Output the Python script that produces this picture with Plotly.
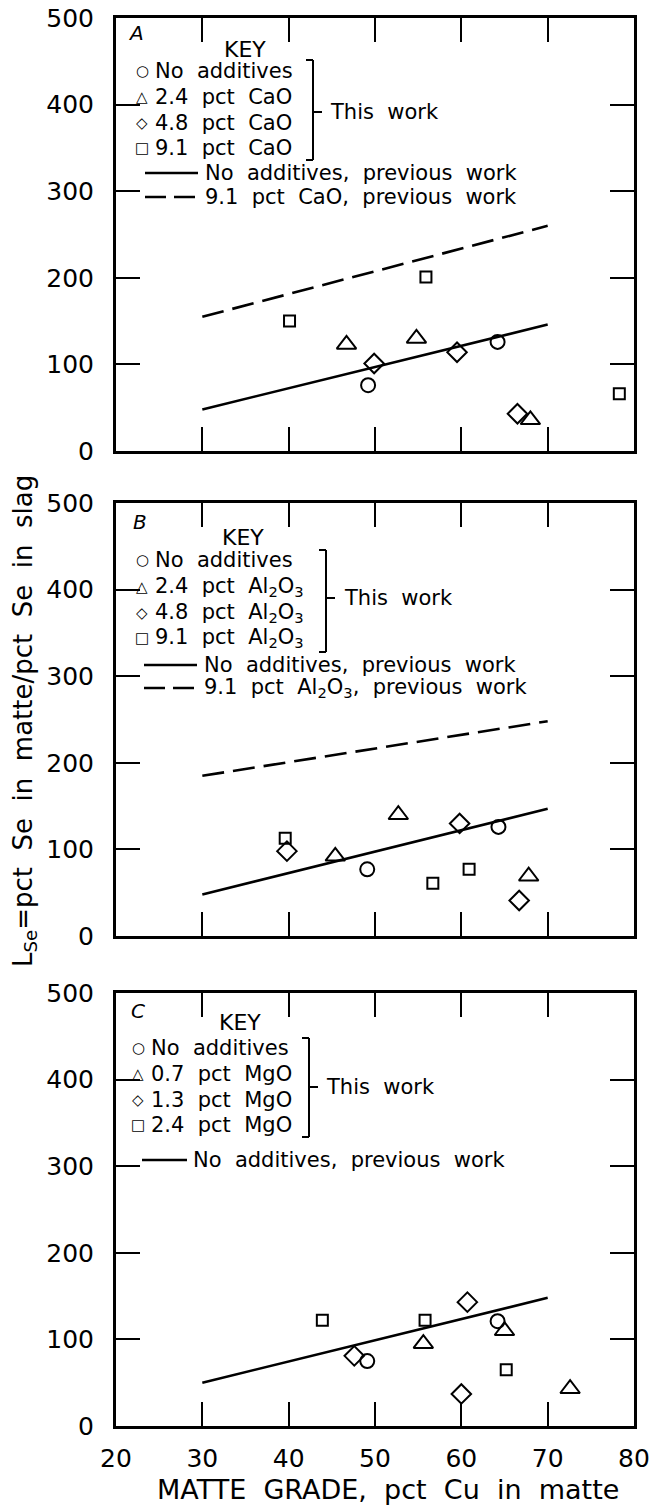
import plotly.graph_objects as go

# ---------------- data ----------------
prev_x = [30, 70]

# Panel A: CaO additions
A_none_x = [49.2, 64.2]
A_none_y = [76, 126]
A_tri_x = [46.7, 54.8, 68.0]
A_tri_y = [123, 130, 36]
A_dia_x = [49.9, 59.5, 66.5]
A_dia_y = [101, 114, 43]
A_sq_x = [40.1, 55.9, 78.3]
A_sq_y = [150, 201, 66]
A_prev_none = [48, 146]
A_prev_high = [155, 260]

# Panel B: Al2O3 additions
B_none_x = [49.1, 64.3]
B_none_y = [77, 126]
B_tri_x = [45.4, 52.7, 67.8]
B_tri_y = [92, 140, 69]
B_dia_x = [39.8, 59.8, 66.7]
B_dia_y = [98, 130, 41]
B_sq_x = [39.6, 56.7, 60.9]
B_sq_y = [113, 61, 77]
B_prev_none = [48, 147]
B_prev_high = [185, 248]

# Panel C: MgO additions
C_none_x = [49.1, 64.2]
C_none_y = [75, 121]
C_tri_x = [55.6, 65.0, 72.6]
C_tri_y = [95, 110, 43]
C_dia_x = [47.6, 60.7, 60.0]
C_dia_y = [81, 143, 37]
C_sq_x = [43.9, 55.8, 65.2]
C_sq_y = [122, 122, 65]
C_prev_none = [50, 148]

x_ticks = [20, 30, 40, 50, 60, 70, 80]
y_ticks = [0, 100, 200, 300, 400, 500]

panel_letters = ["A", "B", "C"]
A_key = ["No  additives", "2.4  pct  CaO", "4.8  pct  CaO", "9.1  pct  CaO"]
B_key = ["No  additives", "2.4  pct  Al<sub>2</sub>O<sub>3</sub>",
         "4.8  pct  Al<sub>2</sub>O<sub>3</sub>", "9.1  pct  Al<sub>2</sub>O<sub>3</sub>"]
C_key = ["No  additives", "0.7  pct  MgO", "1.3  pct  MgO", "2.4  pct  MgO"]
A_prev_key = ["No  additives,  previous  work", "9.1  pct  CaO,  previous  work"]
B_prev_key = ["No  additives,  previous  work",
              "9.1  pct  Al<sub>2</sub>O<sub>3</sub>,  previous  work"]
C_prev_key = ["No  additives,  previous  work"]
key_symbols = ["○", "△", "◇", "□"]

# ---------------- layout geometry ----------------
W, H = 654, 1509
ML, MR, MT, MB = 116, 20, 18, 83
PW = W - ML - MR
PH_TOTAL = H - MT - MB
panel_px = [(18, 451), (503, 936), (993, 1426)]  # top, bottom in px


def dom(top, bot):
    return [(H - MB - bot) / PH_TOTAL, (H - MB - top) / PH_TOTAL]


FONT = "DejaVu Sans"
fig = go.Figure()

panels = [
    dict(none=(A_none_x, A_none_y), tri=(A_tri_x, A_tri_y), dia=(A_dia_x, A_dia_y),
         sq=(A_sq_x, A_sq_y), prev=[A_prev_none, A_prev_high], key=A_key, pkey=A_prev_key),
    dict(none=(B_none_x, B_none_y), tri=(B_tri_x, B_tri_y), dia=(B_dia_x, B_dia_y),
         sq=(B_sq_x, B_sq_y), prev=[B_prev_none, B_prev_high], key=B_key, pkey=B_prev_key),
    dict(none=(C_none_x, C_none_y), tri=(C_tri_x, C_tri_y), dia=(C_dia_x, C_dia_y),
         sq=(C_sq_x, C_sq_y), prev=[C_prev_none], key=C_key, pkey=C_prev_key),
]

# per-panel legend geometry (px offsets from panel top-left)
leg = [
    dict(letter=(20, 15), keyxy=(129, 32), rows=[53, 79, 105, 130], symx=26, txtx=37,
         brx=197, brt=42, brb=142, brm=94, tw=212, prow=[155, 179], plx=(29, 82), ptx=87),
    dict(letter=(24, 19), keyxy=(127, 34), rows=[57, 84, 110, 135], symx=26, txtx=37,
         brx=210, brt=47, brb=149, brm=95, tw=226, prow=[162, 185], plx=(28, 81), ptx=86),
    dict(letter=(22, 18), keyxy=(124, 30), rows=[55, 81, 107, 132], symx=22, txtx=33,
         brx=193, brt=45, brb=144, brm=94, tw=208, prow=[167], plx=(26, 71), ptx=75),
]

annotations = []
shapes = []

for i, p in enumerate(panels):
    n = "" if i == 0 else str(i + 1)
    xa, ya = "x" + n, "y" + n
    top, bot = panel_px[i]
    PHp = bot - top
    for j, yv in enumerate(p["prev"]):
        fig.add_trace(go.Scatter(x=prev_x, y=yv, mode="lines", xaxis=xa, yaxis=ya,
                                 line=dict(color="black", width=2.6,
                                           dash="solid" if j == 0 else "22px,9px"),
                                 showlegend=False, hoverinfo="skip"))
    for key, sym, size in [("none", "circle-open", 14), ("tri", "triangle-up-open", 17),
                           ("dia", "diamond-open", 15), ("sq", "square-open", 11)]:
        xs, ys = p[key]
        fig.add_trace(go.Scatter(x=xs, y=ys, mode="markers", xaxis=xa, yaxis=ya,
                                 marker=dict(symbol=sym, size=size, color="black",
                                             line=dict(color="black", width=2)),
                                 showlegend=False, hoverinfo="skip"))

    ax = dict(domain=[0, 1], range=[20, 80], tickvals=x_ticks, ticks="inside", ticklen=24,
              tickwidth=2, tickcolor="black", showline=True, linewidth=3, linecolor="black",
              mirror="ticks", showgrid=False, zeroline=False, anchor=ya, automargin=False,
              showticklabels=(i == 2), ticklabelstandoff=8,
              tickfont=dict(family=FONT, size=25, color="black"))
    ay = dict(domain=dom(top, bot), range=[0, 500], tickvals=y_ticks, ticks="inside",
              ticklen=24, tickwidth=2, tickcolor="black", showline=True, linewidth=3,
              linecolor="black", mirror="ticks", showgrid=False, zeroline=False, anchor=xa,
              automargin=False, ticklabelstandoff=14,
              tickfont=dict(family=FONT, size=25, color="black"))
    fig.layout["xaxis" + n] = ax
    fig.layout["yaxis" + n] = ay

    g = leg[i]
    xr, yr = xa + " domain", ya + " domain"

    def fx(dx):
        return dx / PW

    def fy(dy):
        return 1 - dy / PHp

    annotations.append(dict(x=fx(g["letter"][0]), y=fy(g["letter"][1]), xref=xr, yref=yr,
                            text="<i>" + panel_letters[i] + "</i>", showarrow=False,
                            xanchor="center", yanchor="middle",
                            font=dict(family=FONT, size=20, color="black")))
    annotations.append(dict(x=fx(g["keyxy"][0]), y=fy(g["keyxy"][1]), xref=xr, yref=yr,
                            text="KEY", showarrow=False, xanchor="center", yanchor="middle",
                            font=dict(family=FONT, size=22, color="black")))
    for k, label in enumerate(p["key"]):
        annotations.append(dict(x=fx(g["symx"]), y=fy(g["rows"][k]), xref=xr, yref=yr,
                                text=key_symbols[k], showarrow=False, xanchor="center",
                                yanchor="middle",
                                font=dict(family=FONT, size=15, color="black")))
        annotations.append(dict(x=fx(g["txtx"]), y=fy(g["rows"][k]), xref=xr, yref=yr,
                                text=label, showarrow=False, xanchor="left", yanchor="middle",
                                font=dict(family=FONT, size=21, color="black")))
    # bracket
    lw = dict(color="black", width=2)
    shapes.append(dict(type="line", xref=xr, yref=yr, x0=fx(g["brx"]), x1=fx(g["brx"]),
                       y0=fy(g["brt"]), y1=fy(g["brb"]), line=lw))
    shapes.append(dict(type="line", xref=xr, yref=yr, x0=fx(g["brx"] - 7), x1=fx(g["brx"]),
                       y0=fy(g["brt"]), y1=fy(g["brt"]), line=lw))
    shapes.append(dict(type="line", xref=xr, yref=yr, x0=fx(g["brx"] - 7), x1=fx(g["brx"]),
                       y0=fy(g["brb"]), y1=fy(g["brb"]), line=lw))
    shapes.append(dict(type="line", xref=xr, yref=yr, x0=fx(g["brx"]), x1=fx(g["brx"] + 9),
                       y0=fy(g["brm"]), y1=fy(g["brm"]), line=lw))
    annotations.append(dict(x=fx(g["tw"]), y=fy(g["brm"]), xref=xr, yref=yr,
                            text="This  work", showarrow=False, xanchor="left",
                            yanchor="middle", font=dict(family=FONT, size=21, color="black")))
    for k, label in enumerate(p["pkey"]):
        shapes.append(dict(type="line", xref=xr, yref=yr, x0=fx(g["plx"][0]),
                           x1=fx(g["plx"][1]), y0=fy(g["prow"][k]), y1=fy(g["prow"][k]),
                           line=dict(color="black", width=2.4,
                                     dash="solid" if k == 0 else "21px,8px")))
        annotations.append(dict(x=fx(g["ptx"]), y=fy(g["prow"][k]), xref=xr, yref=yr,
                                text=label, showarrow=False, xanchor="left",
                                yanchor="middle",
                                font=dict(family=FONT, size=21, color="black")))

# axis titles
annotations.append(dict(x=(388 - ML) / PW, y=(H - MB - 1489) / PH_TOTAL, xref="paper",
                        yref="paper", text="MATTE  GRADE,  pct  Cu  in  matte",
                        showarrow=False, xanchor="center", yanchor="middle",
                        font=dict(family=FONT, size=27, color="black")))
annotations.append(dict(x=(24 - ML) / PW, y=(H - MB - 721) / PH_TOTAL, xref="paper",
                        yref="paper",
                        text="L<sub>Se</sub>=pct  Se  in  matte/pct  Se  in  slag",
                        textangle=-90, showarrow=False, xanchor="center", yanchor="middle",
                        font=dict(family=FONT, size=26, color="black")))

fig.update_layout(width=W, height=H, margin=dict(l=ML, r=MR, t=MT, b=MB, autoexpand=False),
                  plot_bgcolor="white", paper_bgcolor="white", showlegend=False,
                  annotations=annotations, shapes=shapes, hovermode=False,
                  font=dict(family=FONT, color="black"))

fig.write_html("out.html", config={"displayModeBar": False, "staticPlot": True},
               post_script="document.body.style.margin='0';document.body.style.padding='0';")
